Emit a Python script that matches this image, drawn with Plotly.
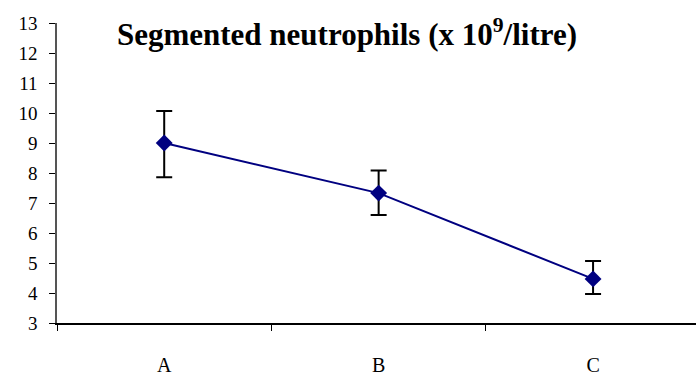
import plotly.graph_objects as go

categories = ["A", "B", "C"]
values = [9.0, 7.33, 4.47]
err_plus = [1.07, 0.75, 0.6]
err_minus = [1.14, 0.73, 0.5]
y_ticks = list(range(3, 14))

navy = "#000080"
font_family = "Liberation Serif"

fig = go.Figure()

fig.add_trace(go.Scatter(
    x=categories, y=values, mode="lines+markers",
    line=dict(color=navy, width=2),
    marker=dict(symbol="diamond", size=13, color=navy),
    error_y=dict(type="data", array=err_plus, arrayminus=err_minus,
                 color="black", thickness=2, width=8, symmetric=False),
    showlegend=False))

fig.update_layout(
    width=696, height=377,
    margin=dict(l=57, r=0, t=23, b=54),
    paper_bgcolor="white", plot_bgcolor="white",
    font=dict(family=font_family, color="black"),
    title=dict(text="<b>Segmented neutrophils (x 10<sup>9</sup>/litre)</b>",
               font=dict(family=font_family, size=31, color="black"),
               xref="container", x=347/696, xanchor="center",
               yref="container", y=1 - 34/377, yanchor="middle"),
    xaxis=dict(type="category", categoryarray=categories,
               range=[-0.5, 2.48], tickson="boundaries",
               ticks="outside", ticklen=6, tickcolor="black", tickwidth=1,
               showline=True, linecolor="black", linewidth=1.5,
               showgrid=False, zeroline=False, automargin=False,
               tickfont=dict(family=font_family, size=20, color="black"),
               ticklabelstandoff=23),
    yaxis=dict(range=[3, 13], tickmode="array", tickvals=y_ticks,
               ticks="outside", ticklen=6, tickcolor="black", tickwidth=1,
               showline=True, linecolor="#555555", linewidth=1.5,
               showgrid=False, zeroline=False, automargin=False,
               tickfont=dict(family=font_family, size=19, color="black"),
               ticklabelstandoff=8),
)

fig.write_html("out.html", config={"displayModeBar": False},
               post_script="document.body.style.margin='0';")
